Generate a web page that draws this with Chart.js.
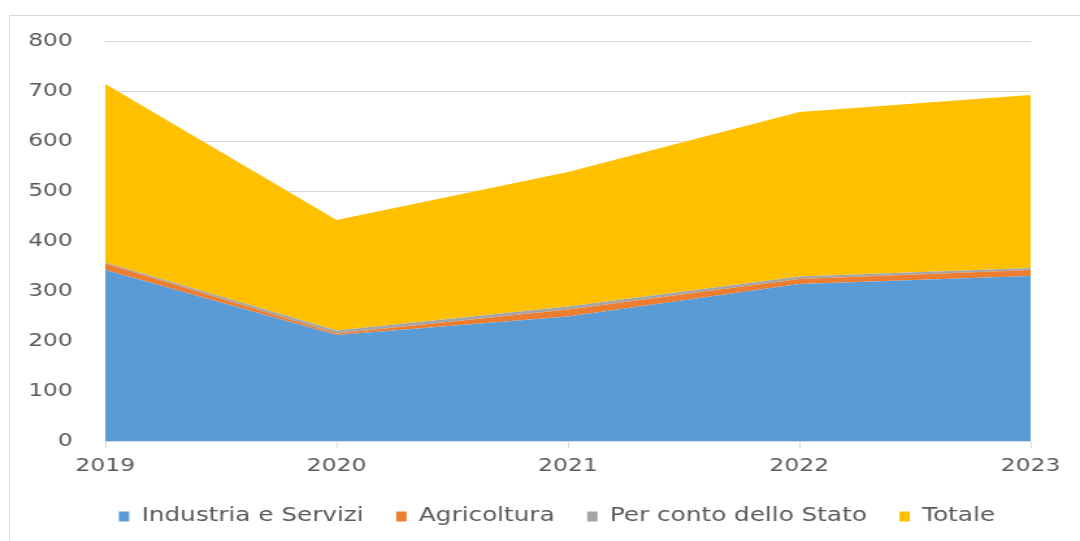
<!DOCTYPE html>
<html>
<head>
<meta charset="utf-8">
<script src="https://cdn.jsdelivr.net/npm/chart.js@4"></script>
<style>
  html, body { margin: 0; padding: 0; background: #fff; overflow: hidden; }
  #frame { position: absolute; left: 9px; top: 15px; width: 1100px; height: 600px; border: 1px solid #d9d9d9; }
  /* the reference is stretched sideways, so the chart is drawn narrower and scaled */
  #wrap { position: absolute; left: 0; top: 0; width: 831px; height: 541px; transform: scaleX(1.2996); transform-origin: 0 0; }
</style>
</head>
<body>
<div id="frame"></div>
<div id="wrap"><canvas id="chart"></canvas></div>
<script>
// data
const years = ['2019', '2020', '2021', '2022', '2023'];
const industriaServizi = [342, 212, 249, 314, 330];
const agricoltura = [13, 3, 14, 10, 12];
const contoStato = [2, 6, 6, 5, 4];
const totale = [357, 221, 269, 329, 346];

const seriesNames = ['Industria e Servizi', 'Agricoltura', 'Per conto dello Stato', 'Totale'];
const seriesColors = ['#5b9bd5', '#ed7d31', '#a5a5a5', '#ffc000'];
const seriesData = [industriaServizi, agricoltura, contoStato, totale];

const font = 'DejaVu Sans';

const datasets = seriesData.map((d, i) => ({
    label: seriesNames[i],
    data: d,
    backgroundColor: seriesColors[i],
    borderColor: seriesColors[i],
    borderWidth: 0,
    pointRadius: 0,
    fill: i === 0 ? 'origin' : '-1',
    tension: 0
}));

// legend in the reference sits centred under the plot, not under the whole canvas
const shiftLegend = {
    id: 'shiftLegend',
    afterLayout(chart) {
        if (!chart.legend) return;
        chart.legend.left += 32;
        chart.legend.right += 32;
    }
};

new Chart(document.getElementById('chart'), {
    type: 'line',
    data: { labels: years, datasets: datasets },
    plugins: [shiftLegend],
    options: {
        responsive: true,
        maintainAspectRatio: false,
        animation: false,
        layout: { padding: { top: 41, right: 38, bottom: 5, left: 0 } },
        plugins: {
            tooltip: { enabled: false },
            legend: {
                position: 'bottom',
                labels: {
                    color: '#595959',
                    font: { family: font, size: 19 },
                    boxWidth: 8,
                    boxHeight: 10,
                    padding: 25
                }
            }
        },
        scales: {
            x: {
                offset: false,
                grid: { drawOnChartArea: false, color: '#d9d9d9', tickLength: 7 },
                border: { color: '#d9d9d9' },
                ticks: { color: '#595959', font: { family: font, size: 18 }, padding: 8, maxRotation: 0 },
                afterFit: (s) => { s.height = 41; }
            },
            y: {
                stacked: true,
                min: 0,
                max: 800,
                ticks: { stepSize: 100, color: '#595959', font: { family: font, size: 18 }, padding: 25 },
                grid: { color: '#d9d9d9', drawTicks: false },
                border: { display: false },
                afterFit: (s) => { s.width = 81; }
            }
        }
    }
});
</script>
</body>
</html>
